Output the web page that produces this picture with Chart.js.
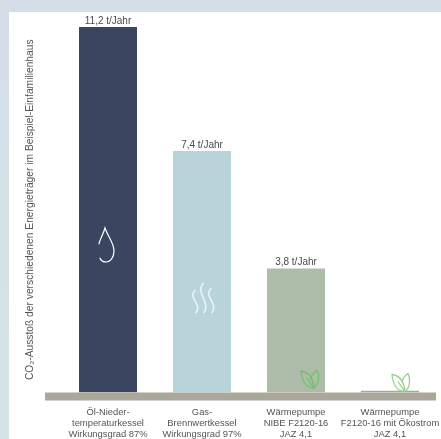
<!DOCTYPE html>
<html lang="de">
<head>
<meta charset="utf-8">
<title>CO₂-Ausstoß</title>
<script src="https://cdn.jsdelivr.net/npm/chart.js@4"></script>
<style>
    html, body { margin: 0; padding: 0; }
    body { width: 441px; height: 439px; overflow: hidden; background: linear-gradient(#d5dee8, #d6e3e6); }
    #panel { position: absolute; left: 9px; top: 12px; background: #fff; }
</style>
</head>
<body>
<canvas id="panel" width="432" height="427"></canvas>
<script>
const categories = [
    ['Öl-Nieder-', 'temperaturkessel', 'Wirkungsgrad 87%'],
    ['Gas-', 'Brennwertkessel', 'Wirkungsgrad 97%'],
    ['Wärmepumpe', 'NIBE F2120-16', 'JAZ 4,1'],
    ['Wärmepumpe', 'F2120-16 mit Ökostrom', 'JAZ 4,1']
];
const emissions = [11.2, 7.4, 3.8, 0.05];
const valueLabels = ['11,2 t/Jahr', '7,4 t/Jahr', '3,8 t/Jahr', ''];
const barColors = ['#3a4560', '#b9d3da', '#aebcaa', '#a6a69a'];
const axisTitle = 'CO₂-Ausstoß der verschiedenen Energieträger im Beispiel-Einfamilienhaus';

const FONT = '"Liberation Sans", sans-serif';
const TEXT = '#555555';

// ground strip under the bars, a bit wider than the plot on the left
const groundStrip = {
    id: 'groundStrip',
    afterDatasetsDraw(chart) {
        const c = chart.ctx;
        const y0 = chart.scales.y.getPixelForValue(0);
        c.save();
        c.fillStyle = '#a9a89a';
        c.fillRect(36, y0, chart.chartArea.right - 37, 8);
        c.restore();
    }
};

// text above each bar
const barValues = {
    id: 'barValues',
    afterDraw(chart) {
        const c = chart.ctx;
        c.save();
        c.font = '10px ' + FONT;
        c.fillStyle = '#4a4a4a';
        c.textAlign = 'center';
        c.textBaseline = 'bottom';
        chart.getDatasetMeta(0).data.forEach((bar, i) => {
            c.fillText(valueLabels[i], bar.x, bar.y - 1);
        });
        c.restore();
    }
};

function leaves(c, x, y, color) {
    c.save();
    c.translate(x, y);
    c.strokeStyle = color;
    c.lineWidth = 1.3;
    c.beginPath();
    // left leaf
    c.moveTo(0, 0);
    c.bezierCurveTo(-7, 0, -12, -6, -13, -17);
    c.bezierCurveTo(-6, -16, -1, -11, 0, 0);
    // right leaf
    c.moveTo(0, 0);
    c.bezierCurveTo(5, -4, 6, -12, 3, -18);
    c.bezierCurveTo(-1, -15, -3, -12, -3, -9);
    // vein
    c.moveTo(-1, -1);
    c.lineTo(-7, -10);
    c.stroke();
    c.restore();
}

// small pictograms sitting on the bars
const barIcons = {
    id: 'barIcons',
    afterDraw(chart) {
        const c = chart.ctx;
        const bars = chart.getDatasetMeta(0).data;
        const y0 = chart.scales.y.getPixelForValue(0);

        // drop
        c.save();
        c.translate(bars[0].x, y0 - 131.5);
        c.strokeStyle = '#fff';
        c.lineWidth = 1.2;
        c.lineCap = 'round';
        c.beginPath();
        c.moveTo(-9, -17);
        c.bezierCurveTo(-8, -22, -5, -26, -3, -33);
        c.bezierCurveTo(0, -24, 6, -18, 6, -10);
        c.bezierCurveTo(6, -3, 2, 1, -2, 1);
        c.bezierCurveTo(-4, 1, -7, 0, -8, -3);
        c.stroke();
        c.restore();

        // steam
        c.save();
        c.translate(bars[1].x, y0 - 80);
        c.strokeStyle = '#eaf4f6';
        c.lineWidth = 1.6;
        c.lineCap = 'round';
        c.beginPath();
        [[-7, -22], [1, -29], [9, -24]].forEach(([dx, top]) => {
            c.moveTo(dx, top);
            c.bezierCurveTo(dx - 8, top * 0.65, dx + 8, top * 0.4, dx + 1, 0);
        });
        c.stroke();
        c.restore();

        leaves(c, bars[2].x + 18, y0 - 4.5, '#6fc26a');
        leaves(c, bars[3].x + 15, y0 - 1, '#8fd48a');
    }
};

new Chart(document.getElementById('panel').getContext('2d'), {
    type: 'bar',
    data: {
        labels: categories,
        datasets: [{
            data: emissions,
            backgroundColor: barColors,
            borderWidth: 0,
            categoryPercentage: 1,
            barPercentage: 0.617
        }]
    },
    plugins: [groundStrip, barValues, barIcons],
    options: {
        responsive: false,
        animation: false,
        layout: { padding: { top: 15, right: 4, left: 15 } },
        plugins: { legend: { display: false }, tooltip: { enabled: false } },
        scales: {
            x: {
                grid: { display: false },
                border: { display: false },
                afterFit(scale) {
                    scale.height = 46.5;
                    // long last label must not shrink the plot
                    scale.paddingLeft = 0;
                    scale.paddingRight = 0;
                },
                ticks: {
                    color: TEXT,
                    padding: 6,
                    maxRotation: 0,
                    autoSkip: false,
                    font: { family: FONT, size: 9.4, lineHeight: 1.19 }
                }
            },
            y: {
                min: 0,
                max: 11.2,
                grid: { display: false },
                border: { display: false },
                afterFit(scale) { scale.width = 37; },
                ticks: { display: false },
                title: {
                    display: true,
                    text: axisTitle,
                    color: TEXT,
                    font: { family: FONT, size: 10.25 },
                    padding: 0
                }
            }
        }
    }
});
</script>
</body>
</html>
